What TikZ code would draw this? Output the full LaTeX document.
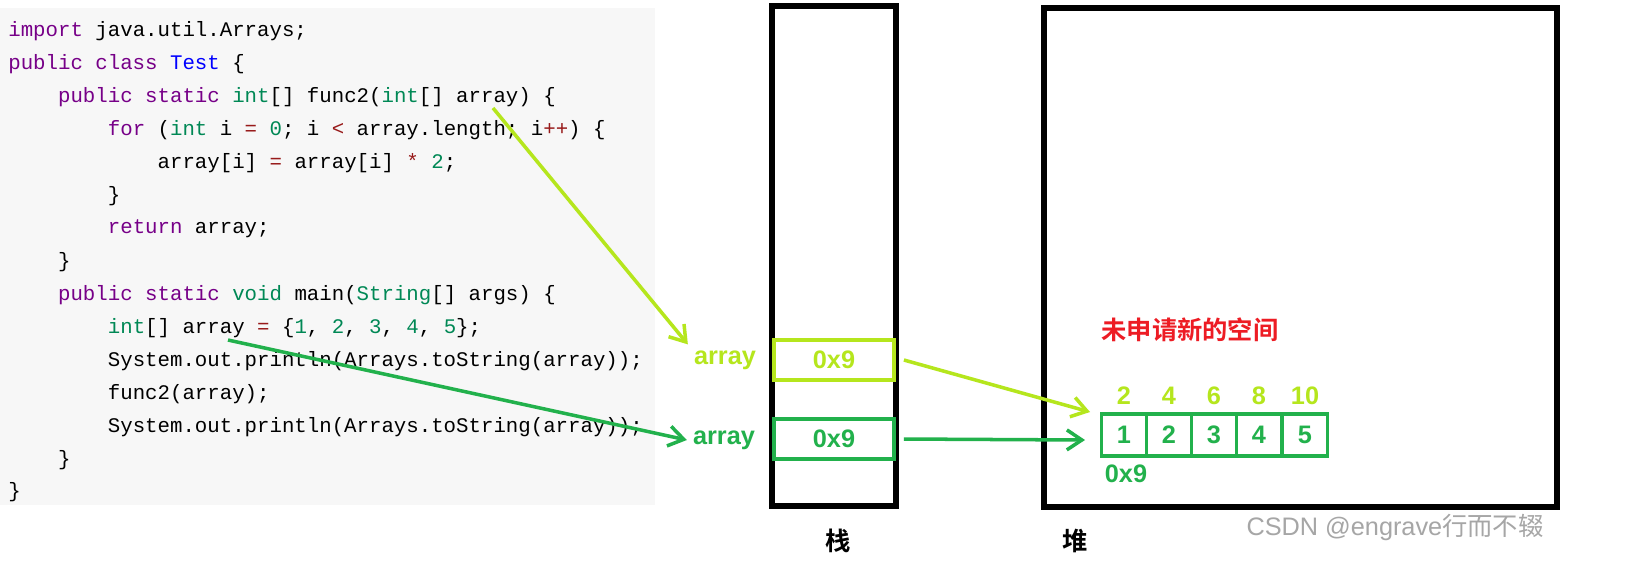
\documentclass[tikz,border=0pt]{standalone}
\usepackage{fontspec}
\setmainfont{Liberation Sans}
\newfontfamily\codefont{Liberation Mono}
\newfontfamily\cjk{Noto Sans CJK SC}[BoldFont={Noto Sans CJK SC Bold}]
\usetikzlibrary{arrows.meta}
\definecolor{kw}{HTML}{770088}
\definecolor{ty}{HTML}{008855}
\definecolor{cl}{HTML}{0000FF}
\definecolor{op}{HTML}{981A1A}
\definecolor{lightg}{HTML}{B5E61D}
\definecolor{darkg}{HTML}{22B14C}
\definecolor{note}{HTML}{ED1C24}
\tikzset{
  code/.style={anchor=west,inner sep=0pt,font=\codefont\fontsize{11.8}{12}\selectfont},
  cell/.style={draw,line width=2.2pt,minimum width=2.4cm,minimum height=0.8cm,font=\bfseries\Large},
  acell/.style={draw=darkg,line width=2.2pt,minimum width=0.9cm,minimum height=0.84cm,inner sep=0pt,text=darkg,font=\bfseries\Large},
  lbl/.style={font=\bfseries\Large},
  ptr/.style={-{Straight Barb[length=3mm,width=4mm]},line width=2pt}
}
\begin{document}
\begin{tikzpicture}[x=0.02cm,y=-0.02cm]
\useasboundingbox (0,0) rectangle (1648,583);
\fill[white] (0,0) rectangle (1648,583);
% code panel
\fill[black!3] (0,8) rectangle (655,505);
\node[code] (l1) at (8,31) {\textcolor{kw}{import} java.util.Arrays;};
\node[code] (l2) at (8,64) {\textcolor{kw}{public class} \textcolor{cl}{Test} \{};
\node[code] (l3) at (8,97) {\ \ \ \ \textcolor{kw}{public static} \textcolor{ty}{int}[] func2(\textcolor{ty}{int}[] array) \{};
\node[code] (l4) at (8,130) {\ \ \ \ \ \ \ \ \textcolor{kw}{for} (\textcolor{ty}{int} i \textcolor{op}{=} \textcolor{ty}{0}; i \textcolor{op}{<} array.length; i\textcolor{op}{++}) \{};
\node[code] (l5) at (8,163) {\ \ \ \ \ \ \ \ \ \ \ \ array[i] \textcolor{op}{=} array[i] \textcolor{op}{*} \textcolor{ty}{2};};
\node[code] (l6) at (8,196) {\ \ \ \ \ \ \ \ \}};
\node[code] (l7) at (8,229) {\ \ \ \ \ \ \ \ \textcolor{kw}{return} array;};
\node[code] (l8) at (8,262) {\ \ \ \ \}};
\node[code] (l9) at (8,295) {\ \ \ \ \textcolor{kw}{public static} \textcolor{ty}{void} main(\textcolor{ty}{String}[] args) \{};
\node[code] (l10) at (8,328) {\ \ \ \ \ \ \ \ \textcolor{ty}{int}[] array \textcolor{op}{=} \{\textcolor{ty}{1}, \textcolor{ty}{2}, \textcolor{ty}{3}, \textcolor{ty}{4}, \textcolor{ty}{5}\};};
\node[code] (l11) at (8,361) {\ \ \ \ \ \ \ \ System.out.println(Arrays.toString(array));};
\node[code] (l12) at (8,394) {\ \ \ \ \ \ \ \ func2(array);};
\node[code] (l13) at (8,427) {\ \ \ \ \ \ \ \ System.out.println(Arrays.toString(array));};
\node[code] (l14) at (8,460) {\ \ \ \ \}};
\node[code] (l15) at (8,492) {\}};
% stack and heap
\draw[line width=3pt] (772,6) rectangle (896,506);
\draw[line width=3pt] (1044,8) rectangle (1557,507);
\node[font=\cjk\bfseries\Large] (stack) at (838,541) {栈};
\node[font=\cjk\bfseries\Large] (heap) at (1075,541) {堆};
\node[cell,draw=lightg,text=lightg] (s1) at (834,360) {0x9};
\node[cell,draw=darkg,text=darkg] (s2) at (834,439) {0x9};
\node[lbl,text=lightg] (n1) at (725,360) {array};
\node[lbl,text=darkg] (n2) at (724,440) {array};
\node[font=\cjk\bfseries\Large,text=note] (msg) at (1190,330) {未申请新的空间};
% heap array
\foreach \v/\x/\w [count=\i] in {1/1124/2, 2/1169/4, 3/1214/6, 4/1259/8, 5/1305/10}{
  \node[acell] (a\i) at (\x,435) {\v};
  \node[lbl,text=lightg] (t\i) at (\x,396) {\w};
}
\node[lbl,text=darkg] (addr) at (1126,474) {0x9};
\coordinate (c1) at (493,108);
\coordinate (c2) at (228,340);
\coordinate (h1) at (1090,412);
\coordinate (h2) at (1085,440);
\draw[ptr,lightg] (c1) -- (n1.north west);
\draw[ptr,darkg] (c2) -- (n2.west);
\draw[ptr,lightg] (s1.east) ++(8,0) -- (h1);
\draw[ptr,darkg] (s2.east) ++(8,0) -- (h2);
\node[text=black!35,font=\Large] (wm) at (1395,527) {CSDN @engrave{\cjk 行而不辍}};
\end{tikzpicture}
\end{document}
